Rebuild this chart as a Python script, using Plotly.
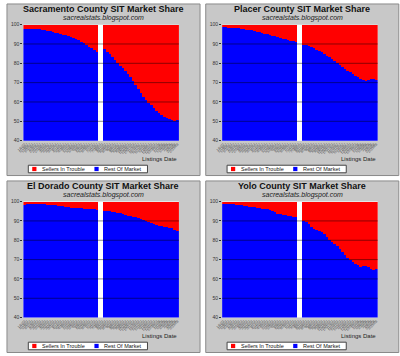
import plotly.graph_objects as go
import pandas as pd

# ---------------- data ----------------
dates = [f"{d.month}/{d.day}/{d.strftime('%y')}" for d in pd.date_range("2007-01-06", periods=60, freq="7D")]

titles = ["Sacramento County SIT Market Share", "Placer County SIT Market Share",
          "El Dorado County SIT Market Share", "Yolo County SIT Market Share"]
subtitle = "sacrealstats.blogspot.com"
series_names = ["Sellers In Trouble", "Rest Of Market"]
y_ticks = [40, 50, 60, 70, 80, 90, 100]

# Rest Of Market share (%) per listing date; None = no data (white gap)
sacramento_rest = [98.1, 98.1, 98.0, 98.0, 98.0, 97.9, 97.7, 97.4, 97.2, 97.0, 96.7, 96.4, 96.1, 95.7, 95.3,
                   94.9, 94.6, 94.2, 93.8, 93.3, 92.7, 92.0, 91.4, 90.6, 89.7, 88.8, 87.9, 87.0, 86.1,
                   None, None,
                   87.5, 86.0, 84.8, 83.3, 81.8, 80.2, 78.9, 77.6, 76.3, 74.9, 73.3, 71.2, 68.8, 66.8, 65.0,
                   63.0, 61.3, 59.8, 58.5, 57.2, 55.6, 54.3, 53.3, 52.5, 51.9, 51.3, 50.9, 50.6, 50.7]
placer_rest = [98.9, 98.8, 98.7, 98.7, 98.6, 98.4, 98.2, 98.0, 97.8, 97.6, 97.4, 97.2, 96.9, 96.5, 96.2,
               95.9, 95.5, 95.2, 94.9, 94.5, 94.2, 93.8, 93.4, 93.0, 92.7, 92.3, 91.9, 91.5, 91.1,
               None, None,
               89.8, 89.5, 89.0, 88.6, 87.9, 87.2, 86.5, 85.8, 85.0, 84.2, 83.3, 82.4, 81.4, 80.3, 79.1,
               78.1, 77.2, 76.4, 75.5, 74.5, 73.7, 73.0, 72.3, 71.8, 71.2, 71.8, 72.3, 72.0, 71.7]
eldorado_rest = [98.6, 98.9, 99.1, 99.2, 99.2, 99.2, 99.2, 99.1, 99.0, 98.7, 98.5, 98.4, 98.2, 98.0, 97.9,
                 97.7, 97.5, 97.3, 97.1, 97.0, 96.9, 96.8, 96.7, 96.6, 96.6, 96.4, 96.3, 96.2, 96.0,
                 None, None,
                 95.6, 95.4, 95.2, 95.0, 94.7, 94.4, 94.1, 93.7, 93.4, 93.0, 92.7, 92.3, 92.0, 91.6, 91.1,
                 90.7, 90.1, 89.6, 89.0, 88.4, 88.0, 87.7, 87.4, 87.1, 86.9, 86.8, 86.6, 85.6, 85.1]
yolo_rest = [99.2, 99.1, 99.0, 98.9, 98.8, 98.6, 98.4, 98.2, 98.0, 97.8, 97.6, 97.4, 97.2, 97.0, 96.8,
             96.6, 96.4, 96.2, 95.8, 95.3, 94.7, 94.0, 93.6, 93.4, 93.1, 92.8, 92.6, 92.4, 92.2,
             None, None,
             90.0, 89.5, 88.8, 87.2, 86.0, 85.6, 85.2, 84.5, 83.2, 81.8, 80.6, 79.5, 78.4, 77.1, 75.6,
             74.1, 72.5, 71.2, 70.0, 68.9, 68.0, 67.2, 66.6, 66.9, 67.0, 66.4, 65.5, 65.0, 65.1]

rest_all = [sacramento_rest, placer_rest, eldorado_rest, yolo_rest]

# ---------------- layout helpers ----------------
W, H = 400, 356
def px(x):
    return x / W
def py(y):
    return 1 - y / H

offsets = [(0, 0), (202.3, 0), (0, 180), (202.3, 180)]
RED, BLUE = "#ff0000", "#0000ff"
FONT = "Liberation Sans, Arial, sans-serif"

fig = go.Figure()
shapes = []
annotations = []
layout_axes = {}

for k, (rest, title, (ox, oy)) in enumerate(zip(rest_all, titles, offsets)):
    n = "" if k == 0 else str(k + 1)
    xa, ya = "x" + n, "y" + n
    trouble = [None if v is None else round(100 - v, 1) for v in rest]

    fig.add_trace(go.Bar(x=dates, y=rest, name=series_names[1], marker=dict(color=BLUE, line=dict(width=0)),
                         xaxis=xa, yaxis=ya, showlegend=False))
    fig.add_trace(go.Bar(x=dates, y=trouble, name=series_names[0], marker=dict(color=RED, line=dict(width=0)),
                         xaxis=xa, yaxis=ya, showlegend=False))

    layout_axes["xaxis" + n] = dict(
        domain=[px(ox + 17.7), px(ox + 176)], anchor=ya, type="category",
        tickmode="array", tickvals=dates, ticktext=dates, tickangle=-45,
        tickfont=dict(size=3.5, color="#555", family=FONT), showgrid=False, ticks="",
        range=[-0.5, len(dates) - 0.5], zeroline=False, showline=False, fixedrange=True)
    layout_axes["yaxis" + n] = dict(
        domain=[py(oy + 140), py(oy + 22)], anchor=xa, range=[40, 100],
        tickmode="array", tickvals=y_ticks, tickfont=dict(size=5, color="#333", family=FONT),
        showgrid=False, ticks="outside", ticklen=2, tickcolor="#333", zeroline=False,
        showline=False, fixedrange=True)

    # panel background
    shapes.append(dict(type="rect", xref="paper", yref="paper", layer="below",
                       x0=px(ox + 1), x1=px(ox + 197.5), y0=py(oy + 175.5), y1=py(oy + 1),
                       fillcolor="#c8c8c8", line=dict(color="#8a8a8a", width=1)))
    # white plotting area (shows through where there is no data)
    shapes.append(dict(type="rect", xref=xa + " domain", yref=ya + " domain", layer="below",
                       x0=0, x1=1, y0=0, y1=1, fillcolor="white", line=dict(width=0)))
    # gridlines drawn over the bars
    for v in y_ticks[1:-1]:
        shapes.append(dict(type="line", xref=xa + " domain", yref=ya, x0=0, x1=1, y0=v, y1=v,
                           layer="above", line=dict(color="rgba(0,0,0,0.45)", width=1)))

    annotations.append(dict(text="<b>" + title + "</b>", x=px(ox + 99), y=py(oy + 6), xref="paper", yref="paper",
                            xanchor="center", yanchor="middle", showarrow=False,
                            font=dict(size=9, color="#111", family=FONT)))
    annotations.append(dict(text="<i>" + subtitle + "</i>", x=px(ox + 99), y=py(oy + 15.5), xref="paper",
                            yref="paper", xanchor="center", yanchor="middle", showarrow=False,
                            font=dict(size=7, color="#222", family=FONT)))
    annotations.append(dict(text="Listings Date", x=px(ox + 176), y=py(oy + 159), xref="paper", yref="paper",
                            xanchor="right", yanchor="middle", showarrow=False,
                            font=dict(size=6, color="#222", family=FONT)))

    # legend box
    shapes.append(dict(type="rect", xref="paper", yref="paper", layer="above",
                       x0=px(ox + 22.7), x1=px(ox + 144), y0=py(oy + 172.7), y1=py(oy + 165),
                       fillcolor="white", line=dict(color="#444", width=1)))
    for (sx, tx, col, label) in [(26.7, 35, RED, series_names[0]), (90, 97.7, BLUE, series_names[1])]:
        shapes.append(dict(type="rect", xref="paper", yref="paper", layer="above",
                           x0=px(ox + sx), x1=px(ox + sx + 4.3), y0=py(oy + 171), y1=py(oy + 166.7),
                           fillcolor=col, line=dict(width=0)))
        annotations.append(dict(text=label, x=px(ox + tx), y=py(oy + 168.9), xref="paper", yref="paper",
                                xanchor="left", yanchor="middle", showarrow=False,
                                font=dict(size=5.5, color="#111", family=FONT)))

fig.update_layout(
    width=W, height=H, margin=dict(l=0, r=0, t=0, b=0),
    paper_bgcolor="white", plot_bgcolor="white",
    barmode="stack", bargap=0, showlegend=False,
    font=dict(family=FONT),
    shapes=shapes, annotations=annotations, **layout_axes)

fig.write_html("out.html", config={"displayModeBar": False},
               post_script="document.body.style.margin='0px';")
